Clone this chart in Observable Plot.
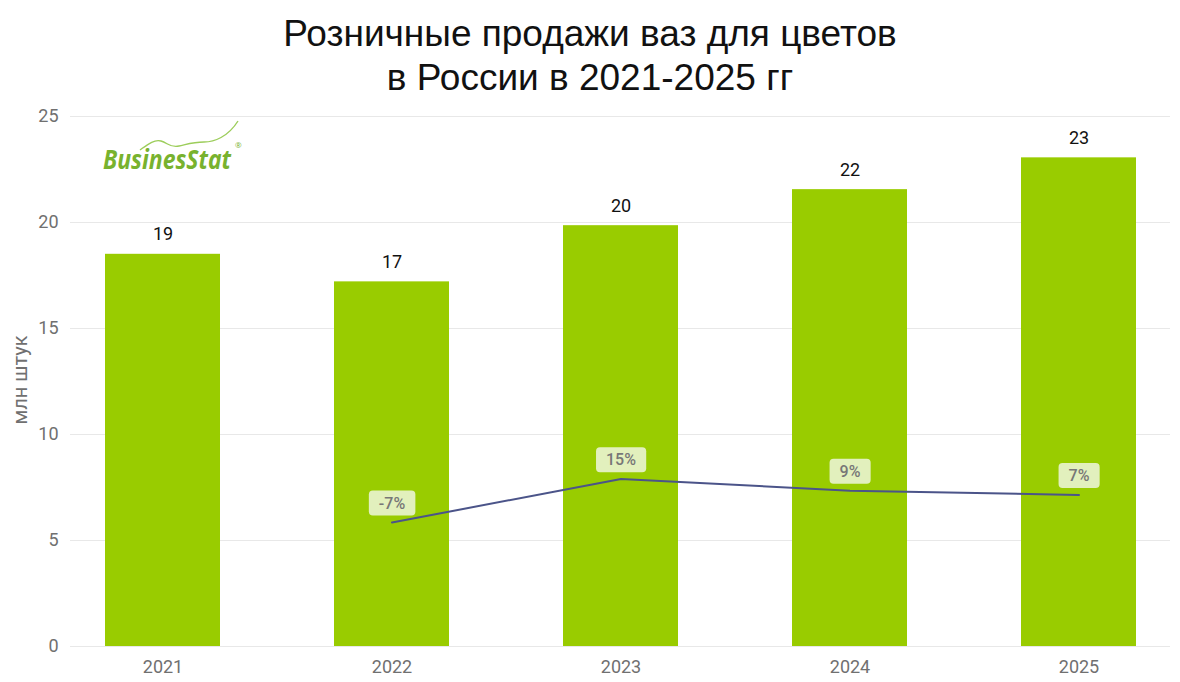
<!DOCTYPE html>
<html><head><meta charset="utf-8">
<script src="https://cdn.jsdelivr.net/npm/d3@7"></script>
<script src="https://cdn.jsdelivr.net/npm/@observablehq/plot@0.6"></script>
<style>
body{margin:0;background:#fff;}
#wrap{position:relative;width:1180px;height:682px;overflow:hidden;background:#fff;}
#title{position:absolute;top:12px;left:0;width:1180px;text-align:center;font-family:"Liberation Sans",Arial,sans-serif;font-size:37px;line-height:44px;color:#111;}
#chart{position:absolute;top:100px;left:0;}
#logo{position:absolute;left:100px;top:112px;overflow:visible;}
#ylabel{position:absolute;left:20px;top:380px;transform:translate(-50%,-50%) rotate(-90deg);font-family:Roboto,sans-serif;font-size:20px;color:#707070;white-space:nowrap;}
</style></head><body>
<div id="wrap">
<div id="title">Розничные продажи ваз для цветов<br>в России в 2021-2025 гг</div>
<div id="chart"></div>
<div id="ylabel">млн штук</div>
<svg id="logo" width="170" height="70" viewBox="0 0 170 70">
  <path d="M40,38 C47,33 54,27 61,29 S70,36 79,34 S94,30 104,30 S128,25 138,9" fill="none" stroke="#9ccd5a" stroke-width="1.4"/>
  <text x="3" y="57" textLength="128" lengthAdjust="spacingAndGlyphs" font-family="Open Sans, sans-serif" font-weight="700" font-style="italic" font-size="26" fill="#78b22e">BusinesStat</text>
  <text x="135" y="36" font-family="Open Sans, sans-serif" font-size="8" fill="#78b22e">®</text>
</svg>
</div>
<script>
const years = ["2021", "2022", "2023", "2024", "2025"];
const sales = [18.5, 17.2, 19.85, 21.55, 23.05];
const salesLabels = ["19", "17", "20", "22", "23"];
const growthYears = ["2022", "2023", "2024", "2025"];
const growthPos = [5.85, 7.9, 7.35, 7.15];
const growthLabels = ["-7%", "15%", "9%", "7%"];
const yTicks = [0, 5, 10, 15, 20, 25];

const bars = years.map((y, i) => ({year: y, value: sales[i], label: salesLabels[i]}));
const growth = growthYears.map((y, i) => ({year: y, pos: growthPos[i], label: growthLabels[i]}));

const chart = Plot.plot({
  width: 1180, height: 582,
  marginLeft: 70, marginRight: 10, marginTop: 16, marginBottom: 36,
  style: {fontFamily: "Roboto, sans-serif", fontSize: "18px", color: "#707070", background: "transparent"},
  x: {domain: years, paddingInner: 0.5, paddingOuter: 0.15, label: null},
  y: {domain: [0, 25], label: null},
  marks: [
    Plot.gridY(yTicks, {stroke: "#e8e8e8", strokeOpacity: 1}),
    Plot.axisY(yTicks, {tickSize: 0, tickPadding: 12, fontSize: 18, fill: "#707070", label: null}),
    Plot.axisX({tickSize: 0, tickPadding: 14, fontSize: 18, fill: "#707070", label: null}),
    Plot.barY(bars, {x: "year", y: "value", fill: "#99cc00"}),
    Plot.text(bars, {x: "year", y: "value", text: "label", dy: -14, lineAnchor: "bottom", fill: "#111", fontSize: 18}),
    Plot.line(growth, {x: "year", y: "pos", stroke: "#4b5489", strokeWidth: 2}),
    Plot.text(growth, {x: "year", y: "pos", text: "label", dy: -19, lineAnchor: "middle", fill: "#777", fontSize: 16, fontWeight: 500})
  ]
});
document.getElementById("chart").appendChild(chart);

// light green label boxes behind growth labels
chart.querySelectorAll("text").forEach(t => {
  if (!t.textContent.trim().endsWith("%")) return;
  const b = t.getBBox();
  const r = document.createElementNS("http://www.w3.org/2000/svg", "rect");
  r.setAttribute("x", b.x - 10);
  r.setAttribute("y", b.y - 3);
  r.setAttribute("width", b.width + 20);
  r.setAttribute("height", b.height + 6);
  r.setAttribute("rx", 4);
  r.setAttribute("fill", "#e2f0bd");
  r.setAttribute("stroke", "none");
  if (t.getAttribute("transform")) r.setAttribute("transform", t.getAttribute("transform"));
  t.parentNode.insertBefore(r, t);
});
</script>
</body></html>
